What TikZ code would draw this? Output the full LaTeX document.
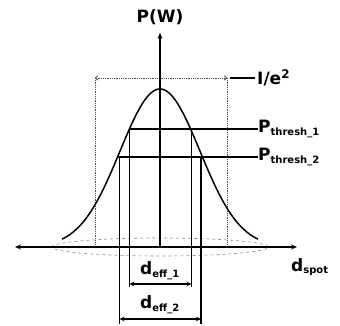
\documentclass[tikz,border=0pt]{standalone}
\usepackage{fontspec}
\setmainfont{DejaVu Sans}
\usetikzlibrary{arrows.meta}
\begin{document}
\begin{tikzpicture}[x=1pt,y=1pt,
  ln/.style={line width=1.5pt,black},
  dotl/.style={line width=0.8pt,densely dotted,black!70},
  faint/.style={line width=0.6pt,dashed,black!45},
  lbl/.style={font=\bfseries\fontsize{17}{19}\selectfont,inner sep=0pt},
  arr/.style={-{Stealth[length=6pt,width=5pt]}},
  darr/.style={{Stealth[length=5pt,width=4.5pt]}-{Stealth[length=5pt,width=4.5pt]}},
  tarr/.style={{To[length=3pt,width=5pt,line width=0.8pt]}-{To[length=3pt,width=5pt,line width=0.8pt]}}
]
\useasboundingbox (-160,-79) rectangle (180,247);
\newcommand{\sbs}[1]{\textsubscript{\fontsize{10}{11}\selectfont #1}}
% coordinates
\coordinate (O) at (0,0);
\coordinate (xl) at (-145,0);
\coordinate (xr) at (137,0);
\coordinate (yt) at (0,214);
% faint ellipse
\draw[faint] (O) ellipse [x radius=108, y radius=9];
% I/e^2 dotted box
\coordinate (ea) at (-65,169);
\coordinate (eb) at (67,169);
\coordinate (eab) at (-65,3);
\coordinate (ebb) at (67,3);
\draw[dotl] (ea) -- (eab);
\draw[dotl] (eb) -- (ebb);
\draw[dotl,tarr] (ea) -- (eb);
% axes
\draw[ln,arr] (O) -- (xr);
\draw[ln,arr] (O) -- (xl);
\draw[ln,arr] (O) -- (yt);
% gaussian
\draw[ln] plot[domain=-98:98,samples=120,smooth] (\x,{158*exp(-(\x*\x)/3200)});
% thresholds
\coordinate (t1l) at (-30.6,118);
\coordinate (t1r) at (98,118);
\coordinate (t2l) at (-42.4,90);
\coordinate (t2r) at (98,90);
\draw[ln] (t1l) -- (t1r);
\draw[ln] (t2l) -- (t2r);
% verticals
\coordinate (v1l) at (-30.6,-40);
\coordinate (v1r) at (31.5,-40);
\coordinate (v1rt) at (31.5,118);
\coordinate (v2l) at (-40.5,-77);
\coordinate (v2r) at (41,-77);
\coordinate (v2lt) at (-40.5,90);
\coordinate (v2rt) at (41,90);
\draw[ln] (t1l) -- (v1l);
\draw[ln] (v1rt) -- (v1r);
\draw[ln] (v2lt) -- (v2l);
\draw[ln] (v2rt) -- (v2r);
% d_eff arrows
\coordinate (a1l) at (-30.6,-37);
\coordinate (a1r) at (31.5,-37);
\coordinate (a2l) at (-40.5,-72);
\coordinate (a2r) at (41,-72);
\draw[ln,line width=1.2pt,darr] (a1l) -- (a1r);
\draw[ln,line width=1.2pt,darr] (a2l) -- (a2r);
% I/e2 leader
\coordinate (il) at (70,169);
\coordinate (ir) at (95,169);
\draw[ln] (il) -- (ir);
% labels
\node[lbl] (pw) at (0,230) {P(W)};
\node[lbl,anchor=west] (ie) at (97,169) {I/e\textsuperscript{2}};
\node[lbl,anchor=west] (pt1) at (98,118) {P\sbs{thresh\_1}};
\node[lbl,anchor=west] (pt2) at (98,90) {P\sbs{thresh\_2}};
\node[lbl] (de1) at (0,-24) {d\sbs{eff\_1}};
\node[lbl] (de2) at (0,-58) {d\sbs{eff\_2}};
\node[lbl,anchor=west] (ds) at (131,-20) {d\sbs{spot}};
\end{tikzpicture}
\end{document}
